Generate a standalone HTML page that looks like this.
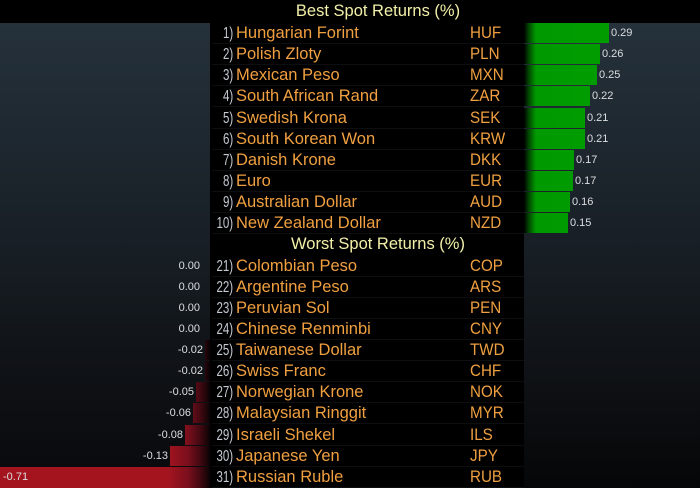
<!DOCTYPE html>
<html><head><meta charset="utf-8">
<style>
html,body{margin:0;padding:0;}
body{width:700px;height:488px;background:#000;position:relative;overflow:hidden;font-family:"Liberation Sans",sans-serif;}
.lp{position:absolute;left:0;top:23px;width:210px;height:465px;background:linear-gradient(to bottom,#25313b 0%,#1a2229 40%,#0f1216 75%,#08090b 100%);}
.rp{position:absolute;left:524px;top:23px;width:176px;height:465px;background:linear-gradient(to bottom,#25313b 0%,#1a2229 40%,#0f1216 75%,#050607 100%);}
.hdr{position:absolute;left:222px;width:312px;text-align:center;color:#f2f0a8;font-size:16.5px;line-height:22px;}
.row{position:absolute;left:212px;width:312px;height:21px;border-bottom:1px solid #0d0e10;box-sizing:border-box;}
.num{position:absolute;right:291px;top:0;line-height:21px;font-size:16px;color:#c4cad2;transform:scaleX(0.72);transform-origin:right center;white-space:nowrap;}
.name{position:absolute;left:24px;top:0;line-height:21px;font-size:16.5px;color:#f0a040;white-space:nowrap;}
.code{position:absolute;left:258px;top:0;line-height:21px;font-size:16.5px;color:#f0a040;transform:scaleX(0.92);transform-origin:left center;}
.gb{position:absolute;left:524px;height:20px;background-image:linear-gradient(to right,#000 0px,#004a00 5px,#009a00 12px,#00a000 100%);background-size:176px 100%;background-position:left center;background-repeat:no-repeat;}
.rb{position:absolute;height:20px;background-image:linear-gradient(to left,#0a0204 0px,#3a0810 8px,#7a0f1c 22px,#a3141f 42px,#a3141f 100%);background-size:210px 100%;background-position:right center;background-repeat:no-repeat;}
.v{position:absolute;font-size:11px;line-height:21px;color:#dcdee0;white-space:nowrap;}
</style></head><body>
<div class="lp"></div>
<div class="rp"></div>

<div class="hdr" style="top:0px;">Best Spot Returns (%)</div>
<div class="hdr" style="top:233px;">Worst Spot Returns (%)</div>

<!-- best rows -->
<div class="row" style="top:23px;"><span class="num">1)</span><span class="name">Hungarian Forint</span><span class="code">HUF</span></div>
<div class="row" style="top:44px;"><span class="num">2)</span><span class="name">Polish Zloty</span><span class="code">PLN</span></div>
<div class="row" style="top:65px;"><span class="num">3)</span><span class="name">Mexican Peso</span><span class="code">MXN</span></div>
<div class="row" style="top:86px;"><span class="num">4)</span><span class="name">South African Rand</span><span class="code">ZAR</span></div>
<div class="row" style="top:108px;"><span class="num">5)</span><span class="name">Swedish Krona</span><span class="code">SEK</span></div>
<div class="row" style="top:129px;"><span class="num">6)</span><span class="name">South Korean Won</span><span class="code">KRW</span></div>
<div class="row" style="top:150px;"><span class="num">7)</span><span class="name">Danish Krone</span><span class="code">DKK</span></div>
<div class="row" style="top:171px;"><span class="num">8)</span><span class="name">Euro</span><span class="code">EUR</span></div>
<div class="row" style="top:192px;"><span class="num">9)</span><span class="name">Australian Dollar</span><span class="code">AUD</span></div>
<div class="row" style="top:213px;"><span class="num">10)</span><span class="name">New Zealand Dollar</span><span class="code">NZD</span></div>

<!-- worst rows -->
<div class="row" style="top:256px;"><span class="num">21)</span><span class="name">Colombian Peso</span><span class="code">COP</span></div>
<div class="row" style="top:277px;"><span class="num">22)</span><span class="name">Argentine Peso</span><span class="code">ARS</span></div>
<div class="row" style="top:298px;"><span class="num">23)</span><span class="name">Peruvian Sol</span><span class="code">PEN</span></div>
<div class="row" style="top:319px;"><span class="num">24)</span><span class="name">Chinese Renminbi</span><span class="code">CNY</span></div>
<div class="row" style="top:340px;"><span class="num">25)</span><span class="name">Taiwanese Dollar</span><span class="code">TWD</span></div>
<div class="row" style="top:361px;"><span class="num">26)</span><span class="name">Swiss Franc</span><span class="code">CHF</span></div>
<div class="row" style="top:382px;"><span class="num">27)</span><span class="name">Norwegian Krone</span><span class="code">NOK</span></div>
<div class="row" style="top:403px;"><span class="num">28)</span><span class="name">Malaysian Ringgit</span><span class="code">MYR</span></div>
<div class="row" style="top:425px;"><span class="num">29)</span><span class="name">Israeli Shekel</span><span class="code">ILS</span></div>
<div class="row" style="top:446px;"><span class="num">30)</span><span class="name">Japanese Yen</span><span class="code">JPY</span></div>
<div class="row" style="top:467px;"><span class="num">31)</span><span class="name">Russian Ruble</span><span class="code">RUB</span></div>

<!-- green bars -->
<div class="gb" style="top:23px;width:85px;"></div><div class="v" style="top:23px;left:611px;">0.29</div>
<div class="gb" style="top:44px;width:76px;"></div><div class="v" style="top:44px;left:602px;">0.26</div>
<div class="gb" style="top:65px;width:73px;"></div><div class="v" style="top:65px;left:599px;">0.25</div>
<div class="gb" style="top:86px;width:66px;"></div><div class="v" style="top:86px;left:592px;">0.22</div>
<div class="gb" style="top:108px;width:61px;"></div><div class="v" style="top:108px;left:587px;">0.21</div>
<div class="gb" style="top:129px;width:61px;"></div><div class="v" style="top:129px;left:587px;">0.21</div>
<div class="gb" style="top:150px;width:50px;"></div><div class="v" style="top:150px;left:576px;">0.17</div>
<div class="gb" style="top:171px;width:49px;"></div><div class="v" style="top:171px;left:575px;">0.17</div>
<div class="gb" style="top:192px;width:46px;"></div><div class="v" style="top:192px;left:572px;">0.16</div>
<div class="gb" style="top:213px;width:44px;"></div><div class="v" style="top:213px;left:570px;">0.15</div>

<!-- red bars / values -->
<div class="v" style="top:256px;right:500px;">0.00</div>
<div class="v" style="top:277px;right:500px;">0.00</div>
<div class="v" style="top:298px;right:500px;">0.00</div>
<div class="v" style="top:319px;right:500px;">0.00</div>
<div class="rb" style="top:340px;left:205px;width:5px;"></div><div class="v" style="top:340px;right:497px;">-0.02</div>
<div class="rb" style="top:361px;left:205px;width:5px;"></div><div class="v" style="top:361px;right:497px;">-0.02</div>
<div class="rb" style="top:382px;left:196px;width:14px;"></div><div class="v" style="top:382px;right:506px;">-0.05</div>
<div class="rb" style="top:403px;left:193px;width:17px;"></div><div class="v" style="top:403px;right:509px;">-0.06</div>
<div class="rb" style="top:425px;left:185px;width:25px;"></div><div class="v" style="top:425px;right:517px;">-0.08</div>
<div class="rb" style="top:446px;left:170px;width:40px;"></div><div class="v" style="top:446px;right:532px;">-0.13</div>
<div class="rb" style="top:467px;left:0px;width:210px;height:21px;"></div><div class="v" style="top:467px;left:3px;">-0.71</div>
</body></html>
